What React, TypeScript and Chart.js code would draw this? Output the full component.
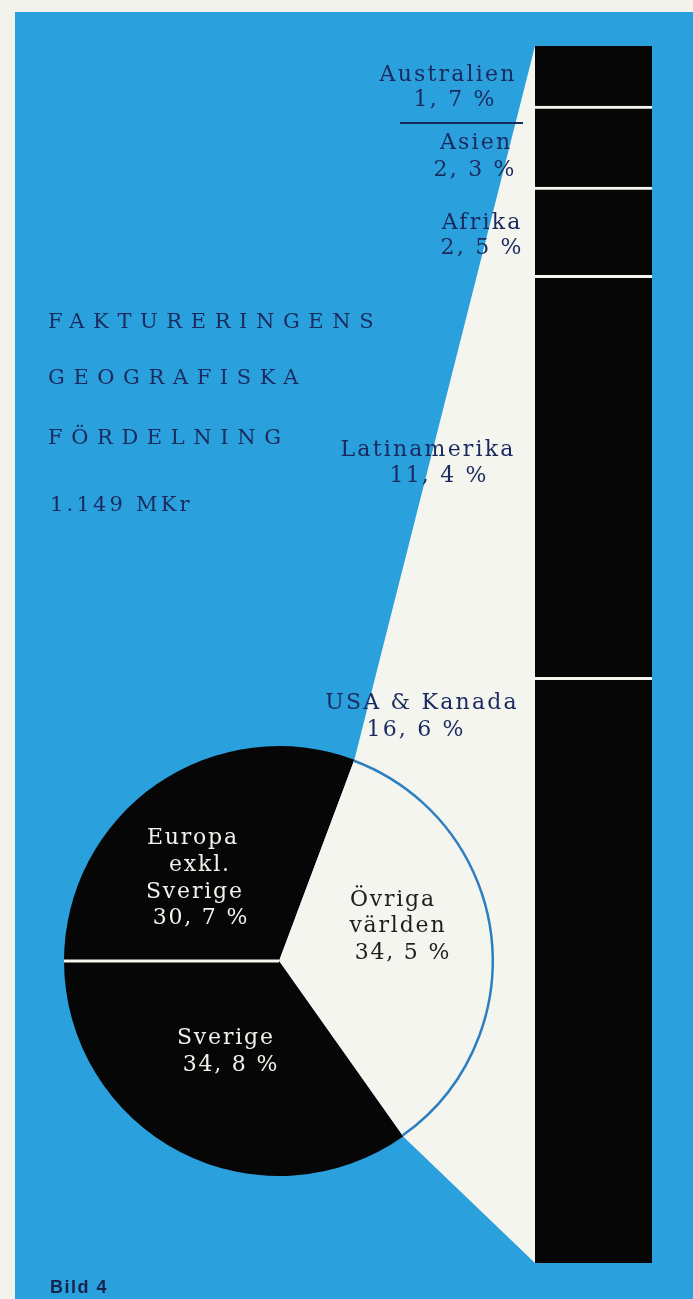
import React, { useEffect, useRef } from 'react';
import { Chart, registerables } from 'chart.js';

Chart.register(...registerables);

// ---------- data ----------
const pieCategories = ['Europa exkl. Sverige', 'Övriga världen', 'Sverige'];
const pieValues = [30.7, 34.5, 34.8];

// breakdown of "Övriga världen", stacked bottom -> top
const barCategories = ['USA & Kanada', 'Latinamerika', 'Afrika', 'Asien', 'Australien'];
const barValues = [16.6, 11.4, 2.5, 2.3, 1.7];

const titleLines = ['FAKTURERINGENS', 'GEOGRAFISKA', 'FÖRDELNING'];
const totalLabel = '1.149 MKr';
const figureLabel = 'Bild 4';

// ---------- layout / style ----------
const W = 693;
const H = 1299;
const PAPER = '#f3f3ee';
const BLUE = '#2aa1dd';
const INK = '#1b2a5e';
const BLACK = '#060606';
const WHITE = '#f5f5f0';
const ARC_BLUE = '#2d7fc0';
const SERIF = "'DejaVu Serif', serif";

// [centerX, baseline] for the name line and the value line
const barLabelLayout: Record<string, number[][]> = {
  'USA & Kanada': [[421, 710], [415, 737]],
  'Latinamerika': [[427, 457], [438, 483]],
  'Afrika': [[481, 230], [481, 255]],
  'Asien': [[475, 150], [474, 177]],
  'Australien': [[447, 82], [454, 107]],
};
const pieLabelLayout: Record<string, number[][]> = {
  'Europa exkl. Sverige': [[192, 845], [199, 872], [194, 899], [200, 925]],
  'Övriga världen': [[392, 907], [397, 933], [402, 960]],
  'Sverige': [[225, 1045], [230, 1072]],
};
const pieLabelColors = ['#f2f2ec', '#1e1e22', '#f2f2ec'];

const fmt = (v: number) => v.toFixed(1).replace('.', ', ') + ' %';

type TProps = {
  x: number;
  y: number;
  text: string;
  size: number;
  spacing: number;
  color: string;
  align?: 'center' | 'left';
  family?: string;
  weight?: number | string;
};

function T({ x, y, text, size, spacing, color, align = 'center', family = SERIF, weight = 'normal' }: TProps) {
  const top = y - 0.846 * size;
  const style: React.CSSProperties = {
    position: 'absolute',
    top,
    fontFamily: family,
    fontSize: size,
    lineHeight: `${size}px`,
    letterSpacing: spacing,
    color,
    whiteSpace: 'nowrap',
    fontWeight: weight as any,
  };
  if (align === 'center') {
    style.left = x - 150 + spacing / 2;
    style.width = 300;
    style.textAlign = 'center';
  } else {
    style.left = x;
  }
  return <div style={style}>{text}</div>;
}

export default function App() {
  const barRef = useRef<HTMLCanvasElement>(null);
  const pieRef = useRef<HTMLCanvasElement>(null);

  useEffect(() => {
    const total = barValues.reduce((a, b) => a + b, 0);
    const bar = new Chart(barRef.current!, {
      type: 'bar',
      data: {
        labels: [''],
        datasets: barCategories.map((name, i) => ({
          label: name,
          data: [barValues[i]],
          backgroundColor: BLACK,
          borderColor: WHITE,
          borderWidth: i === barCategories.length - 1 ? 0 : { top: 3, left: 0, right: 0, bottom: 0 },
          borderSkipped: false,
          barPercentage: 1,
          categoryPercentage: 1,
        })),
      },
      options: {
        responsive: false,
        maintainAspectRatio: false,
        animation: false,
        layout: { padding: { left: 535, right: W - 652, top: 46, bottom: H - 1263 } },
        scales: {
          x: { display: false, stacked: true },
          y: { display: false, stacked: true, min: 0, max: total },
        },
        plugins: { legend: { display: false }, tooltip: { enabled: false } },
      },
    });

    const wedgePlugin = {
      id: 'wedge',
      beforeDatasetsDraw(chart: any) {
        const arc = chart.getDatasetMeta(0).data[1];
        if (!arc) return;
        const { x, y, outerRadius, startAngle, endAngle } = arc.getProps(
          ['x', 'y', 'outerRadius', 'startAngle', 'endAngle'],
          true
        );
        const topEl: any = bar.getDatasetMeta(barCategories.length - 1).data[0];
        const botEl: any = bar.getDatasetMeta(0).data[0];
        const left = topEl.x - topEl.width / 2;
        const ctx = chart.ctx;
        ctx.save();
        ctx.fillStyle = WHITE;
        ctx.beginPath();
        ctx.moveTo(x, y);
        ctx.lineTo(x + outerRadius * Math.cos(startAngle), y + outerRadius * Math.sin(startAngle));
        ctx.lineTo(left, topEl.y);
        ctx.lineTo(left, botEl.base);
        ctx.lineTo(x + outerRadius * Math.cos(endAngle), y + outerRadius * Math.sin(endAngle));
        ctx.closePath();
        ctx.fill();
        ctx.restore();
      },
      afterDatasetsDraw(chart: any) {
        const arcs = chart.getDatasetMeta(0).data;
        const ctx = chart.ctx;
        ctx.save();
        // separator between Sverige and Europa
        const a0 = arcs[0].getProps(['x', 'y', 'outerRadius', 'startAngle'], true);
        ctx.strokeStyle = WHITE;
        ctx.lineWidth = 3;
        ctx.beginPath();
        ctx.moveTo(a0.x, a0.y);
        ctx.lineTo(a0.x + a0.outerRadius * Math.cos(a0.startAngle), a0.y + a0.outerRadius * Math.sin(a0.startAngle));
        ctx.stroke();
        // blue outline around the "Övriga världen" slice
        const a1 = arcs[1].getProps(['x', 'y', 'outerRadius', 'startAngle', 'endAngle'], true);
        ctx.strokeStyle = ARC_BLUE;
        ctx.lineWidth = 2.5;
        ctx.beginPath();
        ctx.arc(a1.x, a1.y, a1.outerRadius - 1.2, a1.startAngle, a1.endAngle);
        ctx.stroke();
        ctx.restore();
      },
    };

    const pie = new Chart(pieRef.current!, {
      type: 'pie',
      data: {
        labels: pieCategories,
        datasets: [
          {
            data: pieValues,
            backgroundColor: [BLACK, WHITE, BLACK],
            borderWidth: 0,
          },
        ],
      },
      options: {
        responsive: false,
        maintainAspectRatio: false,
        animation: false,
        rotation: -90,
        layout: { padding: { left: 64, right: W - 494, top: 746, bottom: H - 1176 } },
        plugins: { legend: { display: false }, tooltip: { enabled: false } },
      },
      plugins: [wedgePlugin],
    });

    return () => {
      pie.destroy();
      bar.destroy();
    };
  }, []);

  return (
    <div
      style={{
        position: 'absolute',
        left: 0,
        top: 0,
        width: W,
        height: H,
        overflow: 'hidden',
        background: PAPER,
      }}
    >
      <div style={{ position: 'absolute', left: 15, top: 12, width: W - 15, height: H - 12, background: BLUE }} />
      <canvas ref={barRef} width={W} height={H} style={{ position: 'absolute', left: 0, top: 0, width: W, height: H }} />
      <canvas ref={pieRef} width={W} height={H} style={{ position: 'absolute', left: 0, top: 0, width: W, height: H }} />

      {titleLines.map((t, i) => (
        <T key={t} x={48} y={[329, 385, 445][i]} text={t} size={21} spacing={8.6} color={INK} align="left" />
      ))}
      <T x={50} y={512} text={totalLabel} size={21} spacing={3.2} color={INK} align="left" />

      {barCategories.map((name, i) => {
        const pos = barLabelLayout[name];
        return (
          <React.Fragment key={name}>
            <T x={pos[0][0]} y={pos[0][1]} text={name} size={22} spacing={2.2} color={INK} />
            <T x={pos[1][0]} y={pos[1][1]} text={fmt(barValues[i])} size={22} spacing={2.2} color={INK} />
          </React.Fragment>
        );
      })}
      <div style={{ position: 'absolute', left: 400, top: 122, width: 123, height: 2, background: INK }} />

      {pieCategories.map((name, i) => {
        const pos = pieLabelLayout[name];
        const lines = [...name.split(' '), fmt(pieValues[i])];
        return (
          <React.Fragment key={name}>
            {lines.map((ln, j) => (
              <T key={j} x={pos[j][0]} y={pos[j][1]} text={ln} size={22} spacing={1.8} color={pieLabelColors[i]} />
            ))}
          </React.Fragment>
        );
      })}

      <T
        x={50}
        y={1293}
        text={figureLabel}
        size={18}
        spacing={1.5}
        color="#17234c"
        align="left"
        family="'Liberation Sans', Arial, sans-serif"
        weight="bold"
      />
    </div>
  );
}
